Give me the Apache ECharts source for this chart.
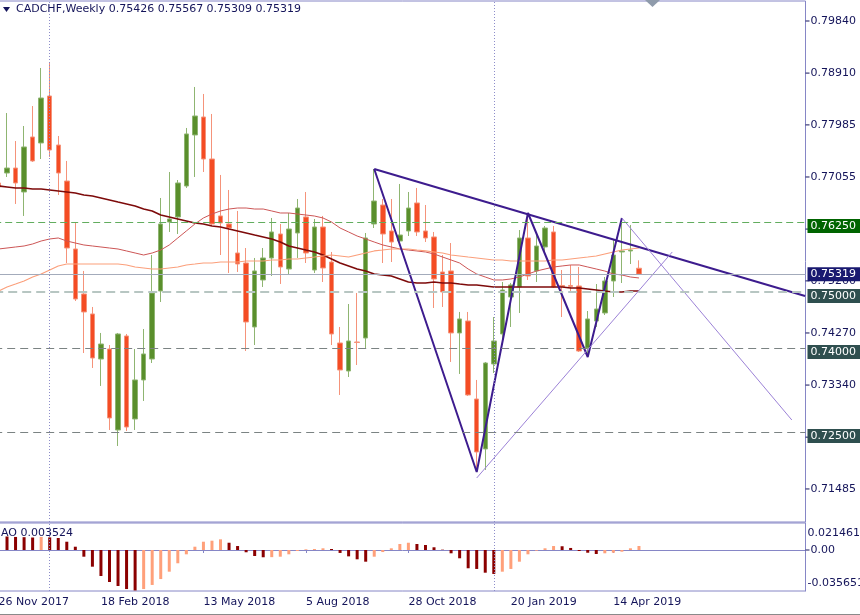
<!DOCTYPE html>
<html><head><meta charset="utf-8">
<script src="https://cdn.jsdelivr.net/npm/echarts@6/dist/echarts.min.js"></script>
<style>html,body{margin:0;padding:0;background:#fff}#c{width:860px;height:615px}</style>
</head><body><div id="c"></div>
<script>
// ---------- data ----------
const symbolName = 'CADCHF', timeframe = 'Weekly';
const MONTHS = ['Jan','Feb','Mar','Apr','May','Jun','Jul','Aug','Sep','Oct','Nov','Dec'];
const TOTAL_SLOTS = 95; // weekly slots shown on the time axis (incl. empty future space)
const categories = [];
for (let i = 0; i < TOTAL_SLOTS; i++) {
  const d = new Date(Date.UTC(2017, 10, 26 + 7 * i));
  categories.push(d.getUTCDate() + ' ' + MONTHS[d.getUTCMonth()] + ' ' + d.getUTCFullYear());
}
const opens  = [0.76948,0.77126,0.77215,0.76787,0.77769,0.77662,0.78501,0.77626,0.76983,0.75769,0.74966,0.74609,0.73805,0.73984,0.72538,0.74216,0.72734,0.73431,0.73805,0.75020,0.76251,0.76341,0.76894,0.77805,0.78126,0.77376,0.76359,0.76216,0.75698,0.75519,0.74377,0.75216,0.75609,0.76037,0.75412,0.76055,0.76341,0.75394,0.76162,0.75537,0.74091,0.73591,0.74109,0.74180,0.76216,0.76555,0.76091,0.75912,0.76091,0.76591,0.76091,0.75984,0.75359,0.75377,0.74270,0.74484,0.73091,0.72199,0.73716,0.74252,0.74912,0.75091,0.75966,0.75377,0.75805,0.76073,0.75118,0.75118,0.75109,0.74002,0.74484,0.74627,0.75198,0.75716,0.75734,0.75426];
const closes = [0.76876,0.77215,0.76948,0.77591,0.77341,0.78465,0.77537,0.77126,0.75787,0.74877,0.74645,0.73823,0.74073,0.72752,0.74252,0.72591,0.73431,0.73895,0.74984,0.76216,0.76305,0.76948,0.77823,0.78144,0.77376,0.76216,0.76234,0.76144,0.75502,0.74466,0.75377,0.75609,0.76073,0.75448,0.76126,0.76501,0.75698,0.76162,0.75430,0.74252,0.73609,0.74127,0.74100,0.75966,0.76626,0.76037,0.75894,0.76019,0.76501,0.76073,0.75966,0.75234,0.75002,0.74270,0.74520,0.73163,0.72145,0.73734,0.74127,0.75037,0.75127,0.75966,0.75287,0.75823,0.76144,0.75091,0.75100,0.75100,0.73948,0.74520,0.74698,0.75198,0.75662,0.75734,0.75751,0.75319];
const lows   = [0.76841,0.77055,0.76573,0.76359,0.77323,0.77376,0.77412,0.76733,0.75519,0.74841,0.73912,0.73645,0.73324,0.72538,0.72252,0.72520,0.72538,0.73056,0.73734,0.74823,0.76073,0.76037,0.76859,0.77055,0.77144,0.76198,0.75662,0.75341,0.75359,0.73948,0.74055,0.75091,0.75287,0.75145,0.75305,0.75609,0.75519,0.75341,0.75180,0.74055,0.73163,0.73484,0.73698,0.74002,0.76144,0.75519,0.75537,0.75841,0.76001,0.76001,0.75894,0.74716,0.74734,0.73752,0.73538,0.73145,0.71788,0.71824,0.73555,0.74055,0.74377,0.74627,0.75216,0.75180,0.75716,0.75073,0.74555,0.74984,0.73930,0.73841,0.74377,0.74591,0.74912,0.75162,0.75501,0.75309];
const highs  = [0.77001,0.78197,0.77697,0.77965,0.78322,0.79001,0.79108,0.77787,0.77341,0.76251,0.75377,0.74734,0.74270,0.74055,0.74270,0.74252,0.73984,0.74341,0.75662,0.76680,0.77144,0.77001,0.77930,0.78662,0.78537,0.78180,0.77091,0.76823,0.76448,0.75787,0.75609,0.75787,0.76323,0.76216,0.76412,0.76662,0.76787,0.76305,0.76359,0.75716,0.74377,0.74787,0.74984,0.76055,0.77198,0.76662,0.76662,0.76930,0.76787,0.76859,0.76555,0.76073,0.75662,0.75876,0.74645,0.74645,0.73431,0.73752,0.74555,0.75180,0.75163,0.76108,0.76412,0.76055,0.76180,0.76180,0.75394,0.75484,0.75448,0.74662,0.75144,0.75269,0.75930,0.76323,0.76198,0.75567];

const maSlow = [0.76894,0.76876,0.76858,0.76858,0.76841,0.76841,0.76823,0.76805,0.76787,0.76769,0.76733,0.76716,0.76680,0.76644,0.76608,0.76573,0.76537,0.76483,0.76448,0.76376,0.76341,0.76305,0.76269,0.76233,0.76216,0.76180,0.76162,0.76126,0.76091,0.76055,0.76019,0.75984,0.75948,0.75894,0.75823,0.75787,0.75751,0.75716,0.75662,0.75591,0.75519,0.75466,0.75412,0.75376,0.75323,0.75305,0.75287,0.75234,0.75180,0.75162,0.75162,0.75180,0.75162,0.75162,0.75144,0.75127,0.75127,0.75109,0.75091,0.75091,0.75091,0.75091,0.75091,0.75091,0.75091,0.75091,0.75091,0.75073,0.75073,0.75055,0.75037,0.75019,0.75002,0.75002,0.75019,0.75019];
const maMid  = [0.75769,0.75787,0.75805,0.75823,0.75859,0.75912,0.75948,0.75966,0.75912,0.75876,0.75841,0.75823,0.75805,0.75787,0.75769,0.75734,0.75698,0.75662,0.75698,0.75751,0.75841,0.75966,0.76091,0.76216,0.76323,0.76394,0.76448,0.76483,0.76501,0.76501,0.76483,0.76483,0.76448,0.76412,0.76412,0.76394,0.76376,0.76358,0.76323,0.76251,0.76144,0.76073,0.76001,0.75948,0.75894,0.75841,0.75805,0.75769,0.75751,0.75734,0.75716,0.75680,0.75626,0.75573,0.75519,0.75412,0.75323,0.75269,0.75216,0.75216,0.75234,0.75269,0.75323,0.75376,0.75412,0.75448,0.75466,0.75484,0.75484,0.75448,0.75412,0.75376,0.75323,0.75305,0.75269,0.75252];
const maFast = [0.75019,0.75091,0.75144,0.75198,0.75269,0.75323,0.75394,0.75466,0.75501,0.75501,0.75501,0.75501,0.75501,0.75501,0.75501,0.75484,0.75448,0.75430,0.75412,0.75412,0.75430,0.75448,0.75484,0.75501,0.75519,0.75519,0.75537,0.75537,0.75537,0.75555,0.75555,0.75555,0.75573,0.75573,0.75591,0.75591,0.75609,0.75626,0.75644,0.75662,0.75644,0.75626,0.75662,0.75698,0.75734,0.75751,0.75769,0.75769,0.75769,0.75751,0.75734,0.75716,0.75698,0.75662,0.75644,0.75626,0.75609,0.75591,0.75573,0.75573,0.75555,0.75555,0.75555,0.75555,0.75555,0.75573,0.75573,0.75591,0.75609,0.75626,0.75644,0.75680,0.75716,0.75751,0.75769,0.75787];

const ao = [0.0123,0.0119,0.0115,0.0113,0.0110,0.0115,0.0111,0.0106,0.0073,0.0029,-0.0059,-0.0147,-0.0229,-0.0282,-0.0317,-0.0344,-0.035651,-0.0344,-0.0308,-0.0256,-0.0191,-0.0117,-0.0038,0.0029,0.0073,0.0082,0.0094,0.0064,0.0035,-0.0020,-0.0053,-0.0064,-0.0063,-0.0059,-0.0038,-0.0009,0.0006,0.0009,0.0015,0.0009,-0.0026,-0.0056,-0.0082,-0.0103,-0.0059,-0.0018,0.0015,0.0053,0.0064,0.0053,0.0044,0.0024,0.0003,-0.0029,-0.0073,-0.0161,-0.0167,-0.0200,-0.0211,-0.0191,-0.0167,-0.0103,-0.0038,-0.0006,0.0015,0.0035,0.0033,0.0018,-0.0009,-0.0024,-0.0035,-0.0029,-0.0024,-0.0015,0.0015,0.003524];

const priceTicks = [0.79840,0.78910,0.77985,0.77055,0.76125,0.75200,0.74270,0.73340,0.72410,0.71485];
const aoTickValues = [0.021461, 0, -0.035651];
const aoTickLabels = ['0.021461', '0.00', '-0.035651'];
const levels = [0.7625, 0.75, 0.74, 0.725];
const separators = ['7 Jan 2018', '6 Jan 2019'];
const pivotIdx  = [44, 56, 62, 69, 73];
const pivotKind = ['high', 'low', 'high', 'low', 'high'];
const trendMain = [[44, 0.77198], [94.45, 0.74930]];
const trendSupport = [[56.0, 0.71681], [78.9, 0.75716]];
const trendFan = [[73, 0.76323], [92.9, 0.72716]];

// ---------- styles ----------
const FONT = "'DejaVu Sans', Verdana, sans-serif";
const NAVY = '#14145a', FRAME = '#8686c6';
const GRID_LEFT = -5.8, GRID_W = 811.3;

const candleData = opens.map((o, i) => [o, closes[i], lows[i], highs[i]]);
const zigzag = pivotIdx.map((i, k) => [i, pivotKind[k] === 'high' ? highs[i] : lows[i]]);
const last = opens.length - 1;
const aoData = ao.map((v, i) => ({ value: v, itemStyle: { color: (i > 0 && v > ao[i - 1]) ? '#ffa07a' : '#8b0000' } }));

const levelStyles = [
  { line: { color: '#62ad5e', type: [7, 4], width: 1 }, bg: '#006400' },
  { line: { color: '#b7c6c2', type: [9, 5], width: 2 }, bg: '#2f4f4f' },
  { line: { color: '#7b8383', type: [8, 5], width: 1 }, bg: '#2f4f4f' },
  { line: { color: '#7b8383', type: [8, 5], width: 1 }, bg: '#2f4f4f' }
];
const boxLabel = (bg, off) => ({
  show: true, position: 'end', distance: 2, color: '#fff', fontFamily: FONT, fontSize: 11,
  backgroundColor: bg, padding: [2, 9, 1, 3], offset: [0, off],
  formatter: p => Number(p.value).toFixed(5)
});
const levelMarks = levels.map((lv, k) => ({
  yAxis: lv, lineStyle: levelStyles[k].line, label: boxLabel(levelStyles[k].bg, 4)
}));
levelMarks.push({ yAxis: closes[last], lineStyle: { color: '#a3abbb', type: 'solid', width: 1 }, label: boxLabel('#191970', 0) });

const sepMarks = separators.map(s => ({ xAxis: s }));
const sepStyle = { color: '#8d8dca', type: [1, 2], width: 1 };

const titleText = symbolName + ',' + timeframe + ' ' + [opens[last], highs[last], lows[last], closes[last]].map(v => v.toFixed(5)).join(' ');

// tick mark drawn as a short rich-text bar before each scale label
const tickRich = {
  tk: { width: 4, height: 1, backgroundColor: NAVY, fontSize: 1, lineHeight: 1 },
  v:  { padding: [0, 0, 0, 1], color: NAVY, fontFamily: FONT, fontSize: 11 },
  tkT: { width: 4, height: 1, backgroundColor: NAVY, fontSize: 1, lineHeight: 1 },
  vT: { padding: [15, 0, 0, 1], color: NAVY, fontFamily: FONT, fontSize: 11 },
  vB: { padding: [0, 0, 15, 1], color: NAVY, fontFamily: FONT, fontSize: 11 }
};

const option = {
  animation: false,
  backgroundColor: '#ffffff',
  grid: [
    { left: GRID_LEFT, width: GRID_W, top: 1, height: 521, show: true, borderColor: FRAME, borderWidth: 1, backgroundColor: 'transparent', outerBoundsMode: 'none', containLabel: false },
    { left: GRID_LEFT, width: GRID_W, top: 523, height: 68, show: true, borderColor: FRAME, borderWidth: 1, backgroundColor: 'transparent', outerBoundsMode: 'none', containLabel: false }
  ],
  xAxis: [
    { type: 'category', gridIndex: 0, data: categories, boundaryGap: true, show: false },
    { type: 'category', gridIndex: 1, data: categories, boundaryGap: true,
      axisLine: { show: true, lineStyle: { color: FRAME } },
      axisTick: { show: true, alignWithLabel: true, length: 3, interval: (i) => i % 12 === 0 && i <= last, lineStyle: { color: FRAME } },
      axisLabel: { show: true, interval: (i) => i % 12 === 0 && i <= last, align: 'left', color: NAVY, fontFamily: FONT, fontSize: 11, margin: 6 },
      splitLine: { show: false } },
    { type: 'value', gridIndex: 0, min: -0.5, max: TOTAL_SLOTS - 0.5, show: false }
  ],
  yAxis: [
    { type: 'value', gridIndex: 0, position: 'right', min: 0.70895, max: 0.80197,
      axisLine: { show: true, lineStyle: { color: FRAME } },
      axisTick: { show: false },
      axisLabel: { customValues: priceTicks, formatter: v => '{tk| }{v|' + v.toFixed(5) + '}', color: NAVY, fontFamily: FONT, fontSize: 11, margin: 0, rich: tickRich },
      splitLine: { show: false } },
    { type: 'value', gridIndex: 1, position: 'right', min: -0.036123, max: 0.023789,
      axisLine: { show: true, lineStyle: { color: FRAME } },
      axisTick: { show: false },
      axisLabel: { customValues: aoTickValues, color: NAVY, fontFamily: FONT, fontSize: 11, margin: 0, rich: tickRich,
        formatter: v => {
          const k = aoTickValues.findIndex(t => Math.abs(t - v) < 1e-9);
          const s = k >= 0 ? aoTickLabels[k] : '';
          return k === 0 ? '{v|}{vT|' + s + '}' : k === 2 ? '{v|}{vB|' + s + '}' : '{tk| }{v|' + s + '}';
        } },
      splitLine: { show: false } }
  ],
  series: [
    { type: 'line', name: 'levels', xAxisIndex: 0, yAxisIndex: 0, data: [], z: 1, silent: true,
      markLine: { symbol: ['none', 'none'], silent: true, precision: 5, data: levelMarks } },
    { type: 'line', name: 'sep', xAxisIndex: 0, yAxisIndex: 0, data: [], z: 1, silent: true,
      markLine: { symbol: ['none', 'none'], silent: true, label: { show: false }, lineStyle: sepStyle, data: sepMarks } },
    { type: 'candlestick', name: 'price', xAxisIndex: 0, yAxisIndex: 0, data: candleData, barWidth: 5, z: 2,
      itemStyle: { color: '#5a8f2c', color0: '#f44c24', borderColor: '#8fb571', borderColor0: '#f5937a', borderWidth: 1 } },
    { type: 'line', name: 'maSlow', xAxisIndex: 0, yAxisIndex: 0, data: maSlow, symbol: 'none', z: 3, lineStyle: { color: '#7d0a0a', width: 1.6 } },
    { type: 'line', name: 'maMid', xAxisIndex: 0, yAxisIndex: 0, data: maMid, symbol: 'none', z: 3, lineStyle: { color: '#cc5656', width: 1 } },
    { type: 'line', name: 'maFast', xAxisIndex: 0, yAxisIndex: 0, data: maFast, symbol: 'none', z: 3, lineStyle: { color: '#fb9f7b', width: 1.2 } },
    { type: 'line', name: 'zigzag', xAxisIndex: 2, yAxisIndex: 0, data: zigzag, symbol: 'none', z: 4, lineStyle: { color: '#3d1c8e', width: 2 } },
    { type: 'line', name: 'trendMain', xAxisIndex: 2, yAxisIndex: 0, data: trendMain, symbol: 'none', z: 4, lineStyle: { color: '#3d1c8e', width: 2 } },
    { type: 'line', name: 'trendSupport', xAxisIndex: 2, yAxisIndex: 0, data: trendSupport, symbol: 'none', z: 4, lineStyle: { color: '#9c82d7', width: 1 } },
    { type: 'line', name: 'trendFan', xAxisIndex: 2, yAxisIndex: 0, data: trendFan, symbol: 'none', z: 4, lineStyle: { color: '#9c82d7', width: 1 } },
    { type: 'bar', name: 'AO', xAxisIndex: 1, yAxisIndex: 1, data: aoData, barWidth: 3, z: 2,
      markLine: { symbol: ['none', 'none'], silent: true, label: { show: false }, lineStyle: sepStyle, data: sepMarks } }
  ],
  graphic: [
    { type: 'polygon', shape: { points: [[3, 7], [10, 7], [6.5, 12]] }, style: { fill: NAVY } },
    { type: 'text', left: 16, top: 4, style: { text: titleText, fill: NAVY, font: '11px ' + FONT } },
    { type: 'polygon', shape: { points: [[645, 0], [660, 0], [652.5, 7]] }, style: { fill: '#8f9bab' } },
    { type: 'text', left: 1, top: 528, style: { text: 'AO ' + ao[last].toFixed(6), fill: NAVY, font: '11px ' + FONT } },
    { type: 'line', shape: { x1: 0, y1: 614.5, x2: 860, y2: 614.5 }, style: { stroke: '#8a8a8a', lineWidth: 1 } }
  ]
};
const chart = echarts.init(document.getElementById('c'));
chart.setOption(option);
</script></body></html>
